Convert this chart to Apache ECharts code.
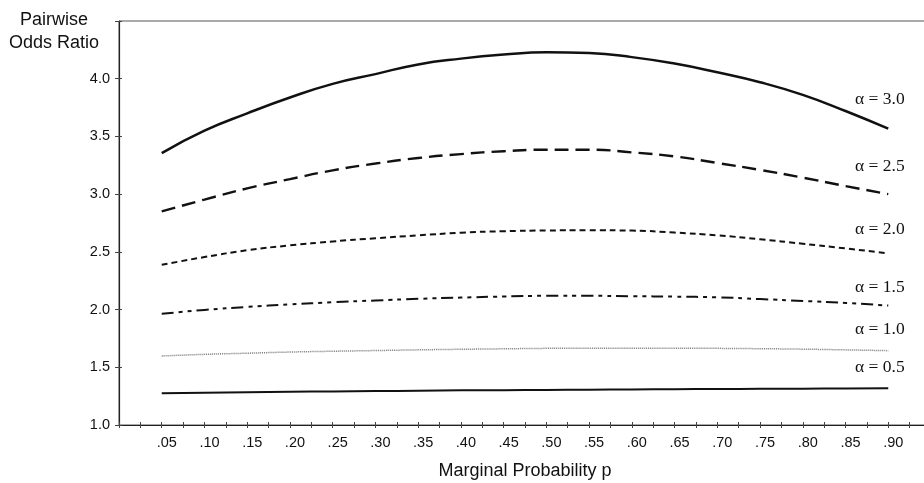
<!DOCTYPE html>
<html>
<head>
<meta charset="utf-8">
<script src="https://cdn.jsdelivr.net/npm/echarts@6/dist/echarts.min.js"></script>
<style>
html,body{margin:0;padding:0;background:#fff;}
#chart{width:924px;height:483px;}
</style>
</head>
<body>
<div id="chart"></div>
<script>
// Marginal probability p
const pValues = [0.05,0.10,0.15,0.20,0.25,0.30,0.35,0.40,0.45,0.50,0.55,0.60,0.65,0.70,0.75,0.80,0.85,0.90];
// Pairwise odds ratio for each alpha
const alpha30 = [3.356,3.55,3.70,3.837,3.955,4.04,4.124,4.174,4.209,4.229,4.222,4.187,4.131,4.056,3.97,3.86,3.72,3.567];
const alpha25 = [2.85,2.953,3.05,3.13,3.206,3.265,3.313,3.347,3.372,3.385,3.385,3.362,3.327,3.27,3.21,3.143,3.07,3.0];
const alpha20 = [2.388,2.455,2.514,2.556,2.59,2.618,2.643,2.666,2.679,2.685,2.687,2.684,2.667,2.643,2.609,2.57,2.53,2.487];
const alpha15 = [1.963,1.997,2.023,2.045,2.063,2.079,2.093,2.104,2.113,2.119,2.119,2.116,2.112,2.106,2.091,2.075,2.057,2.035];
const alpha10 = [1.598,1.612,1.622,1.632,1.639,1.645,1.651,1.656,1.66,1.664,1.665,1.665,1.665,1.664,1.661,1.657,1.651,1.644];
const alpha05 = [1.275,1.28,1.284,1.288,1.291,1.294,1.297,1.30,1.302,1.304,1.306,1.308,1.31,1.312,1.313,1.315,1.316,1.318];
const curveLabels = ['\u03B1 = 3.0','\u03B1 = 2.5','\u03B1 = 2.0','\u03B1 = 1.5','\u03B1 = 1.0','\u03B1 = 0.5'];
const yTitle = 'Pairwise\nOdds Ratio';
const xTitle = 'Marginal Probability p';

const chart = echarts.init(document.getElementById('chart'), null, {renderer:'canvas'});
const toPairs = arr => pValues.map((p,i)=>[p, arr[i]]);
const sans = 'Liberation Sans, Arial, sans-serif';
const serif = 'Liberation Serif, Times New Roman, serif';

function isMult(v, step){ const r = v/step; return Math.abs(r - Math.round(r)) < 1e-6; }

const seriesDefs = [
  {data: alpha30, type: 'solid', width: 2.5, color: '#111'},
  {data: alpha25, type: [14,7], width: 2.4, color: '#111'},
  {data: alpha20, type: [6,4], width: 2, color: '#111'},
  {data: alpha15, type: [12,5,4,5,4,5], width: 2, color: '#111'},
  {data: alpha10, type: [1,1], width: 1.5, color: '#777'},
  {data: alpha05, type: 'solid', width: 2, color: '#111'}
];

const labelY = [99, 166, 229, 287, 329, 367];

const option = {
  animation: false,
  backgroundColor: '#fff',
  grid: {left: 119, width: 812, top: 21, bottom: 58, show: true, borderColor: '#555', borderWidth: 1,
         containLabel: false, outerBoundsMode: 'none'},
  xAxis: [{
    type: 'value', min: 0, max: 0.95, interval: 0.025,
    name: xTitle, nameLocation: 'middle', nameGap: 37,
    nameTextStyle: {fontFamily: sans, fontSize: 18, color: '#111'},
    axisLine: {show: true, onZero: false, lineStyle: {color: '#222', width: 1.2}},
    axisTick: {show: true, inside: false, length: 3, lineStyle: {color: '#444'}},
    axisLabel: {fontFamily: sans, fontSize: 14.5, color: '#111', margin: 10, padding: [0, 0, 0, 10],
      formatter: v => (v > 0.001 && v < 0.93 && isMult(v, 0.05)) ? v.toFixed(2).replace(/^0/, '') : ''},
    splitLine: {show: false}
  },{
    type: 'value', min: 0, max: 0.95, interval: 0.025, position: 'bottom',
    axisLine: {show: false}, axisLabel: {show: false}, splitLine: {show: false},
    axisTick: {show: true, inside: true, length: 3, lineStyle: {color: '#444'}}
  }],
  yAxis: [{
    type: 'value', min: 1, max: 4.5, interval: 0.5,
    axisLine: {show: true, onZero: false, lineStyle: {color: '#222', width: 1.2}},
    axisTick: {show: true, inside: false, length: 4, lineStyle: {color: '#444'}},
    axisLabel: {fontFamily: sans, fontSize: 14.5, color: '#111', margin: 9,
      formatter: v => v < 4.4 ? v.toFixed(1) : ''},
    splitLine: {show: false}
  },{
    type: 'value', min: 1, max: 4.5, interval: 0.5, position: 'left',
    axisLine: {show: false}, axisLabel: {show: false}, splitLine: {show: false},
    axisTick: {show: true, inside: true, length: 3, lineStyle: {color: '#444'}}
  }],
  series: seriesDefs.map(s => ({
    type: 'line', smooth: true, showSymbol: false, symbol: 'none',
    data: toPairs(s.data),
    lineStyle: {color: s.color, width: s.width, type: s.type},
    z: 3
  })),
  graphic: [
    {type: 'text', x: 54, y: 32, style: {text: yTitle, font: '18px ' + sans, fill: '#111', align: 'center', verticalAlign: 'middle', lineHeight: 23}}
  ].concat(curveLabels.map((t, i) => ({
    type: 'text', x: 855, y: labelY[i],
    style: {text: t, font: '17.5px ' + serif, fill: '#111', align: 'left', verticalAlign: 'middle'}
  })))
};
chart.setOption(option);
</script>
</body>
</html>
